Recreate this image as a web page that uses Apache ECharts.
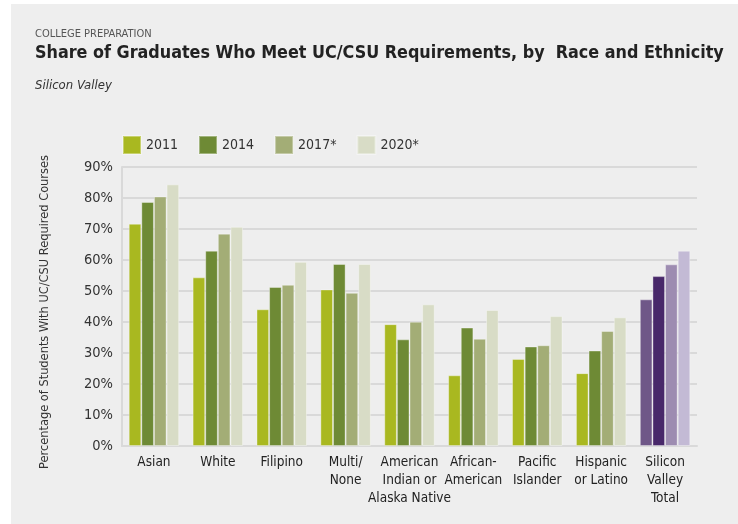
<!DOCTYPE html>
<html>
<head>
<meta charset="utf-8">
<script src="https://cdn.jsdelivr.net/npm/echarts@6/dist/echarts.min.js"></script>
<style>
html,body{margin:0;padding:0;background:#ffffff;}
#chart{width:738px;height:524px;}
</style>
</head>
<body>
<div id="chart"></div>
<script>
var categories = ['Asian', 'White', 'Filipino', 'Multi/\nNone', 'American\nIndian or\nAlaska Native', 'African-\nAmerican', 'Pacific\nIslander', 'Hispanic\nor Latino', 'Silicon\nValley\nTotal'];
var seriesNames = ['2011', '2014', '2017*', '2020*'];
var values2011 = [71.7, 54.4, 44.1, 50.5, 39.3, 22.8, 28.1, 23.5, 47.3];
var values2014 = [78.7, 63.0, 51.3, 58.7, 34.4, 38.2, 32.1, 30.8, 54.8];
var values2017 = [80.5, 68.5, 52.0, 49.4, 40.1, 34.6, 32.5, 37.1, 58.6];
var values2020 = [84.4, 70.7, 59.4, 58.7, 45.7, 43.9, 41.9, 41.5, 63.0];
var yTicks = [0, 10, 20, 30, 40, 50, 60, 70, 80, 90];

var greens = ['#a9b820', '#6e8a35', '#a3ad76', '#d8dcc6'];
var purples = ['#6f5788', '#48286a', '#9d8cb1', '#c3bad5'];
var allValues = [values2011, values2014, values2017, values2020];
var FONT = "'Liberation Sans Narrow', 'DejaVu Sans Condensed', 'Liberation Sans', sans-serif";

var chart = echarts.init(document.getElementById('chart'));
var series = seriesNames.map(function (name, i) {
  return {
    name: name,
    type: 'bar',
    barGap: '0%',
    barCategoryGap: '21%',
    itemStyle: { color: greens[i], borderColor: 'rgba(255,255,255,0.35)', borderWidth: 1 },
    emphasis: { disabled: true },
    data: allValues[i].map(function (v, j) {
      if (j === categories.length - 1) {
        return { value: v, itemStyle: { color: purples[i] } };
      }
      return v;
    })
  };
});

chart.setOption({
  animation: false,
  backgroundColor: '#ffffff',
  textStyle: { fontFamily: FONT },
  graphic: [
    { type: 'rect', left: 11, top: 4, shape: { width: 727, height: 520 }, style: { fill: '#eeeeee' }, z: -10 },
    { type: 'text', left: 35, top: 29, style: { text: 'COLLEGE PREPARATION', font: "11px " + FONT, fill: '#555555' } },
    { type: 'text', left: 35, top: 44, style: { text: 'Share of Graduates Who Meet UC/CSU Requirements, by  Race and Ethnicity', font: "bold 17.8px " + FONT, fill: '#222222' } },
    { type: 'text', left: 35, top: 79, style: { text: 'Silicon Valley', font: "italic 13px " + FONT, fill: '#333333' } },
    { type: 'text', x: 45, y: 312, rotation: Math.PI / 2, style: { text: 'Percentage of Students With UC/CSU Required Courses', font: "12.7px " + FONT, fill: '#333333', align: 'center', verticalAlign: 'middle' } }
  ],
  legend: {
    left: 122,
    top: 135,
    padding: 0,
    itemWidth: 18,
    itemHeight: 18,
    itemGap: 20,
    icon: 'rect',
    textStyle: { fontSize: 14, color: '#333333', fontFamily: FONT },
    data: seriesNames
  },
  grid: { left: 122, right: 41, top: 167, bottom: 78, containLabel: false },
  xAxis: {
    type: 'category',
    data: categories,
    axisTick: { show: false },
    axisLine: { show: true, lineStyle: { color: '#d9d9d9', width: 2 } },
    axisLabel: { fontSize: 13.5, color: '#222222', lineHeight: 18, margin: 7, interval: 0, fontFamily: FONT }
  },
  yAxis: {
    type: 'value',
    min: yTicks[0],
    max: yTicks[yTicks.length - 1],
    interval: 10,
    axisLine: { show: true, lineStyle: { color: '#d9d9d9', width: 2 } },
    axisTick: { show: false },
    splitLine: { lineStyle: { color: '#d9d9d9', width: 2 } },
    axisLabel: { formatter: '{value}%', fontSize: 14.5, color: '#333333', margin: 9, fontFamily: FONT }
  },
  series: series
});
</script>
</body>
</html>
